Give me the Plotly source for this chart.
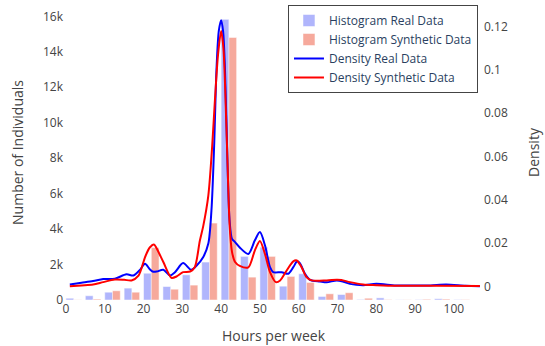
import plotly.graph_objects as go

# Histogram bins of width 5 (centres), counts per bin
bin_centers = [2, 7, 12, 17, 22, 27, 32, 37, 42, 47, 52, 57, 62, 67, 72, 77, 82, 87, 92, 97, 102]
counts_real = [100, 240, 440, 670, 1510, 760, 1420, 2140, 15830, 2460, 2980, 780, 1480, 200, 310, 30, 120, 10, 20, 70, 20]
counts_synth = [10, 50, 520, 440, 2950, 610, 840, 4340, 14810, 1290, 2460, 1330, 990, 350, 410, 100, 20, 10, 40, 50, 20]

# Kernel density estimates
dens_real_x = [1, 4, 7, 9.6, 12.6, 15.6, 17.4, 19, 20.4, 21.6, 22.5, 23.4, 25.1, 26.8, 28.1,
               30.2, 32.3, 33.7, 35.4, 36.7, 37.5, 38.2, 38.8, 39.4, 40, 40.5, 41, 41.6,
               42.2, 42.8, 43.6, 44.8, 47, 48.7, 50, 51.3, 52.6, 53.4, 55.6, 57.3, 58.6,
               59.6, 60.3, 61.6, 62.9, 65.5, 67.2, 69.8, 71.5, 73.2, 76.6, 80, 85, 90,
               94, 98, 103, 106.7]
dens_real_y = [0.0009, 0.0017, 0.0025, 0.0034, 0.0036, 0.0056, 0.0051, 0.0075, 0.0105, 0.0080,
               0.0068, 0.0069, 0.0077, 0.0051, 0.0066, 0.0108, 0.0077, 0.0097, 0.0136, 0.0198,
               0.035, 0.065, 0.1, 0.118, 0.123, 0.118, 0.1, 0.06, 0.03, 0.022, 0.0205, 0.018,
               0.015, 0.0213, 0.0251, 0.019, 0.0089, 0.0066, 0.0066, 0.0059, 0.0089, 0.0116,
               0.0108, 0.0059, 0.0031, 0.0023, 0.0019, 0.0028, 0.0022, 0.0012, 0.0006, 0.0012,
               0.0005, 0.0004, 0.0005, 0.0009, 0.0003, 0.0001]

dens_synth_x = [1, 4, 7, 9.6, 12.6, 15, 16.9, 18.7, 20.4, 21.6, 22.7, 23.4, 25.1, 27.2, 28.5,
                30.2, 32, 33.2, 34.5, 35.4, 36.7, 37.7, 38.4, 39.2, 40, 40.6, 41, 41.6,
                42.2, 42.8, 43.6, 44.8, 47, 48.7, 50, 51.3, 52.6, 54.1, 55.2, 56.9, 58.6,
                59.5, 60.7, 62, 63.3, 67.2, 69.8, 71, 73.2, 76.6, 80, 85, 95, 106.7]
dens_synth_y = [0.0001, 0.0005, 0.0009, 0.002, 0.0032, 0.0031, 0.0028, 0.005, 0.0136, 0.018,
                0.0194, 0.0175, 0.0113, 0.004, 0.0046, 0.0066, 0.0069, 0.0089, 0.021, 0.028,
                0.042, 0.065, 0.086, 0.107, 0.118, 0.11, 0.094, 0.06, 0.028, 0.016, 0.0113,
                0.0095, 0.0088, 0.0167, 0.021, 0.015, 0.0066, 0.002, 0.0028, 0.0074, 0.0116,
                0.012, 0.009, 0.0043, 0.0028, 0.0028, 0.0031, 0.003, 0.002, 0.0009, 0.0006,
                0.0003, 0.0003, 0.0002]

fig = go.Figure()
fig.add_trace(go.Bar(x=bin_centers, y=counts_real, name="Histogram Real Data",
                     marker_color="#636efa", opacity=0.5))
fig.add_trace(go.Bar(x=bin_centers, y=counts_synth, name="Histogram Synthetic Data",
                     marker_color="#EF553B", opacity=0.5))
fig.add_trace(go.Scatter(x=dens_real_x, y=dens_real_y, name="Density Real Data",
                         mode="lines", line=dict(color="blue", width=2, shape="spline", smoothing=0.8),
                         yaxis="y2"))
fig.add_trace(go.Scatter(x=dens_synth_x, y=dens_synth_y, name="Density Synthetic Data",
                         mode="lines", line=dict(color="red", width=2, shape="spline", smoothing=0.8),
                         yaxis="y2"))

axis_font = dict(family="Open Sans, verdana, arial, sans-serif", size=12, color="#444")
title_font = dict(family="Open Sans, verdana, arial, sans-serif", size=14, color="#444")

fig.update_layout(
    template="plotly_white",
    width=545, height=346,
    margin=dict(l=64, r=62, t=5, b=46),
    barmode="group",
    bargap=0.2,
    xaxis=dict(title=dict(text="Hours per week", font=title_font), tickfont=axis_font,
               range=[-0.5, 107.5], dtick=10, showgrid=False, zeroline=False),
    yaxis=dict(title=dict(text="Number of Individuals", font=title_font, standoff=16),
               tickfont=axis_font, range=[0, 16640], dtick=2000, showgrid=False, zeroline=False),
    yaxis2=dict(title=dict(text="Density", font=title_font, standoff=22), tickfont=axis_font,
                overlaying="y", side="right", range=[-0.00625, 0.130], dtick=0.02,
                showgrid=False, zeroline=False),
    legend=dict(x=0.988, xanchor="right", y=1, yanchor="top",
                bordercolor="#444", borderwidth=1, bgcolor="white",
                font=dict(size=12, color="#2a3f5f")),
    showlegend=True,
)

fig.write_html("out.html")
